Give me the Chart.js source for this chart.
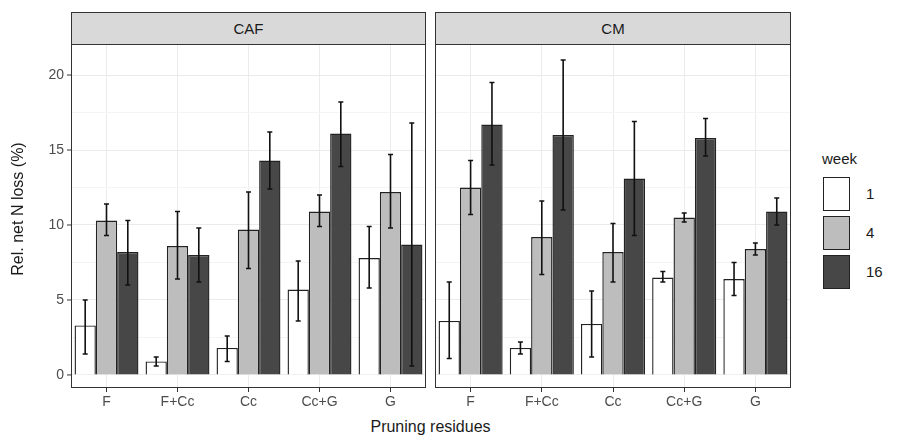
<!DOCTYPE html>
<html><head><meta charset="utf-8">
<script src="https://cdn.jsdelivr.net/npm/chart.js@4"></script>
<style>
body{margin:0;background:#fff;font-family:"Liberation Sans",Arial,sans-serif;}
#wrap{position:relative;width:901px;height:441px;}
canvas{position:absolute;}
.strip{position:absolute;top:12px;height:33px;background:#d9d9d9;border:1px solid #333;box-sizing:border-box;text-align:center;line-height:31px;font-size:15px;color:#1a1a1a;}
.lg{position:absolute;font-size:15px;color:#1a1a1a;}
.box{position:absolute;width:27px;height:34px;border:1.5px solid #222;box-sizing:border-box;left:823px;}
</style></head><body>
<div id="wrap">
<div class="strip" style="left:71px;width:355px;">CAF</div>
<div class="strip" style="left:435px;width:356px;">CM</div>
<canvas id="c1" style="left:0;top:44px;"></canvas>
<canvas id="c2" style="left:435px;top:44px;"></canvas>
<div class="lg" style="left:822px;top:150px;">week</div>
<div class="box" style="top:177px;background:#ffffff"></div>
<div class="box" style="top:216px;background:#bdbdbd"></div>
<div class="box" style="top:255px;background:#474747"></div>
<div class="lg" style="left:866px;top:185px;">1</div>
<div class="lg" style="left:866px;top:224px;">4</div>
<div class="lg" style="left:866px;top:263px;">16</div>
<div class="lg" style="left:0;width:861px;text-align:center;top:418px;font-size:16px;">Pruning residues</div>
<div class="lg" style="left:-62px;top:200px;width:160px;text-align:center;transform:rotate(-90deg);font-size:16px;">Rel. net N loss (%)</div>
</div>
<script>
const categories=["F","F+Cc","Cc","Cc+G","G"];
const weeks=["1","4","16"];
const yTickLabels=[0,5,10,15,20];
const colors=["#ffffff","#bdbdbd","#474747"];
const caf1=[3.3,0.9,1.8,5.7,7.8], caf1Lo=[1.4,0.6,0.9,3.6,5.8], caf1Hi=[5.0,1.2,2.6,7.6,9.9];
const caf4=[10.3,8.6,9.7,10.9,12.2], caf4Lo=[9.3,6.4,7.1,9.9,9.8], caf4Hi=[11.4,10.9,12.2,12.0,14.7];
const caf16=[8.2,8.0,14.3,16.1,8.7], caf16Lo=[6.0,6.2,12.4,13.9,0.6], caf16Hi=[10.3,9.8,16.2,18.2,16.8];
const cm1=[3.6,1.8,3.4,6.5,6.4], cm1Lo=[1.1,1.4,1.2,6.2,5.3], cm1Hi=[6.2,2.2,5.6,6.9,7.5];
const cm4=[12.5,9.2,8.2,10.5,8.4], cm4Lo=[10.7,6.7,6.2,10.2,8.0], cm4Hi=[14.3,11.6,10.1,10.8,8.8];
const cm16=[16.7,16.0,13.1,15.8,10.9], cm16Lo=[14.0,11.0,9.3,14.6,10.0], cm16Hi=[19.5,21.0,16.9,17.1,11.8];

const errPlugin={id:'err',afterDatasetsDraw(ch){
  const ctx=ch.ctx,ys=ch.scales.y;
  ch.data.datasets.forEach((ds,i)=>{
    ch.getDatasetMeta(i).data.forEach((el,j)=>{
      const lo=ys.getPixelForValue(ds.lo[j]),hi=ys.getPixelForValue(ds.hi[j]);
      ctx.save();ctx.strokeStyle='#111';ctx.lineWidth=1.6;ctx.beginPath();
      ctx.moveTo(el.x,lo);ctx.lineTo(el.x,hi);
      ctx.moveTo(el.x-2.5,lo);ctx.lineTo(el.x+2.5,lo);
      ctx.moveTo(el.x-2.5,hi);ctx.lineTo(el.x+2.5,hi);
      ctx.stroke();ctx.restore();
    });
  });
}};
const borderPlugin={id:'bd',afterDraw(ch){
  const a=ch.chartArea,ctx=ch.ctx;ctx.save();ctx.strokeStyle='#333';ctx.lineWidth=1;
  ctx.strokeRect(a.left+0.5,a.top+0.5,a.right-a.left-1,a.bottom-a.top-1);
  if(ch.options.showY){
    const ys=ch.scales.y;ctx.fillStyle='#4d4d4d';ctx.font='14px "Liberation Sans"';
    ctx.textAlign='right';ctx.textBaseline='middle';
    yTickLabels.forEach(v=>{const p=ys.getPixelForValue(v);
      ctx.fillText(String(v),a.left-7,p);
      ctx.beginPath();ctx.moveTo(a.left-4,p);ctx.lineTo(a.left,p);ctx.stroke();});
  }
  ctx.restore();
}};
function make(id,sets,showY){
  const cv=document.getElementById(id);
  const data={labels:categories,datasets:sets.map((s,i)=>({label:weeks[i],data:s[0],lo:s[1],hi:s[2],
    backgroundColor:colors[i],borderColor:'#222',borderWidth:1.4,categoryPercentage:0.9,barPercentage:1}))};
  return new Chart(cv,{type:'bar',data,plugins:[errPlugin,borderPlugin],options:{
    showY,responsive:false,animation:false,devicePixelRatio:1,
    layout:{padding:0},
    plugins:{legend:{display:false},tooltip:{enabled:false}},
    scales:{
      x:{grid:{color:'#ebebeb',lineWidth:1,offset:false,drawTicks:true,tickLength:4,tickColor:'#333'},border:{display:false},
        ticks:{color:'#4d4d4d',font:{size:14,family:'Liberation Sans'},padding:2},
        afterFit(s){s.height=25;}},
      y:{min:-0.87,max:22.07,border:{display:false},
        grid:{color:ctx=>(ctx.tick&&ctx.tick.value%5===0)?'#ebebeb':'#f4f4f4',drawTicks:false},
        ticks:{display:false},
        afterBuildTicks(s){s.ticks=[0,2.5,5,7.5,10,12.5,15,17.5,20].map(v=>({value:v}));},
        afterFit(s){s.width=showY?71:0;}}
    }}});
}
const c1=document.getElementById('c1');c1.width=426;c1.height=369;
const c2=document.getElementById('c2');c2.width=356;c2.height=369;
make('c1',[[caf1,caf1Lo,caf1Hi],[caf4,caf4Lo,caf4Hi],[caf16,caf16Lo,caf16Hi]],true);
make('c2',[[cm1,cm1Lo,cm1Hi],[cm4,cm4Lo,cm4Hi],[cm16,cm16Lo,cm16Hi]],false);
</script></body></html>
